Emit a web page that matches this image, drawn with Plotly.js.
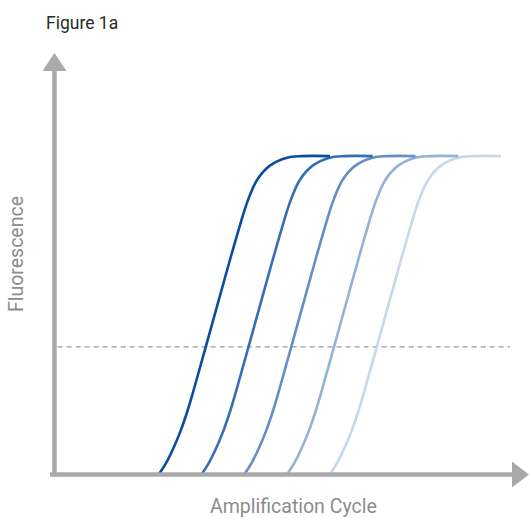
<!DOCTYPE html>
<html>
<head>
<meta charset="utf-8">
<script src="https://cdn.plot.ly/plotly-3.0.1.min.js"></script>
<style>html,body{margin:0;padding:0;background:#fff;}#chart{width:529px;height:518px;}</style>
</head>
<body>
<div id="chart"></div>
<script>
// Fluorescence values (same sigmoid shape for each dilution)
const fluorescence = [0, 3.5, 8, 13.4, 19.9, 28, 40, 65, 79, 86, 92.5, 97, 99.5, 100, 100];
// Cycle positions for each curve
const cycles1 = [7.37, 7.87, 8.37, 8.87, 9.37, 9.9, 10.65, 12.2, 13.1, 13.6, 14.25, 15.15, 16.35, 17.4, 19.37];
const cycles2 = [10.37, 10.87, 11.37, 11.87, 12.37, 12.9, 13.65, 15.2, 16.1, 16.6, 17.25, 18.15, 19.35, 20.4, 22.37];
const cycles3 = [13.37, 13.87, 14.37, 14.87, 15.37, 15.9, 16.65, 18.2, 19.1, 19.6, 20.25, 21.15, 22.35, 23.4, 25.37];
const cycles4 = [16.37, 16.87, 17.37, 17.87, 18.37, 18.9, 19.65, 21.2, 22.1, 22.6, 23.25, 24.15, 25.35, 26.4, 28.37];
const cycles5 = [19.37, 19.87, 20.37, 20.87, 21.37, 21.9, 22.65, 24.2, 25.1, 25.6, 26.25, 27.15, 28.35, 29.4, 31.37];
const threshold = 40;
const curveColors = ['#0c4ca0', '#346eb4', '#648ec6', '#94b1d7', '#c8d7ec'];
const xRange = [0, 32];
const yRange = [0, 129.6];

const allCycles = [cycles1, cycles2, cycles3, cycles4, cycles5];
const traces = [];
for (let i = allCycles.length - 1; i >= 0; i--) {
  traces.push({
    x: allCycles[i], y: fluorescence, type: 'scatter', mode: 'lines',
    line: {color: curveColors[i], width: 2.6, shape: 'spline', smoothing: 1},
    hoverinfo: 'skip', showlegend: false
  });
}

const axisGrey = '#a9a9ab';
const textGrey = '#8c8c8c';
const layout = {
  width: 529, height: 518,
  margin: {l: 54, r: 19, t: 62, b: 44},
  paper_bgcolor: '#fff', plot_bgcolor: '#fff',
  showlegend: false,
  title: {text: 'Figure 1a', x: 46/529, xanchor: 'left', xref: 'container',
          y: 1 - 23/518, yanchor: 'middle', yref: 'container',
          font: {family: 'Roboto, sans-serif', size: 17.5, color: '#2a2a2a'}},
  xaxis: {range: xRange, showgrid: false, zeroline: false, showline: false, showticklabels: false, ticks: '', fixedrange: true},
  yaxis: {range: yRange, showgrid: false, zeroline: false, showline: false, showticklabels: false, ticks: '', fixedrange: true},
  shapes: [
    {type: 'line', xref: 'paper', yref: 'y', x0: 0.008, x1: 1, y0: threshold, y1: threshold,
     line: {color: '#9a9a9a', width: 1.4, dash: '5px,4px'}, layer: 'below'},
    {type: 'line', xref: 'paper', yref: 'paper', x0: 0.0011, x1: 0.0011, y0: -0.006, y1: 0.98,
     line: {color: axisGrey, width: 4.5}},
    {type: 'line', xref: 'paper', yref: 'paper', x0: -0.0088, x1: 1.005, y0: -0.0012, y1: -0.0012,
     line: {color: axisGrey, width: 4.5}},
    {type: 'path', xref: 'paper', yref: 'paper',
     path: 'M -0.0252,0.978 L 0.0274,0.978 L 0.0011,1.022 Z',
     fillcolor: axisGrey, line: {width: 0}},
    {type: 'path', xref: 'paper', yref: 'paper',
     path: 'M 1.0044,0.0304 L 1.0044,-0.0328 L 1.0417,-0.0012 Z',
     fillcolor: axisGrey, line: {width: 0}}
  ],
  annotations: [
    {text: 'Amplification Cycle', xref: 'paper', yref: 'paper', x: 0.525, y: -0.078,
     xanchor: 'center', yanchor: 'middle', showarrow: false,
     font: {family: 'Roboto, sans-serif', size: 19.5, color: textGrey}},
    {text: 'Fluorescence', xref: 'paper', yref: 'paper', x: -0.081, y: 0.534,
     xanchor: 'center', yanchor: 'middle', showarrow: false, textangle: -90,
     font: {family: 'Roboto, sans-serif', size: 19.5, color: textGrey}}
  ]
};

Plotly.newPlot('chart', traces, layout, {displayModeBar: false, staticPlot: true});
</script>
</body>
</html>
